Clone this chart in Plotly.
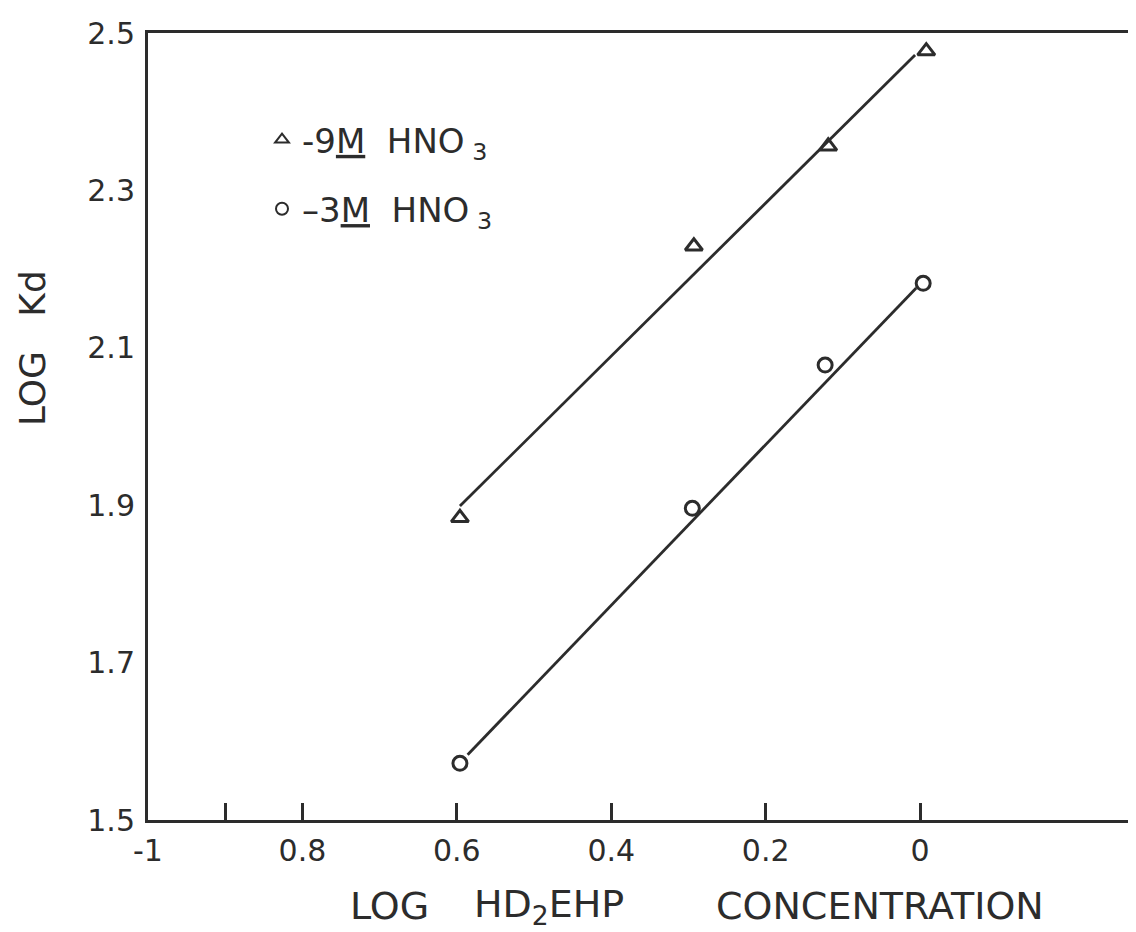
import plotly.graph_objects as go

# ---- data ----
x_log_conc = [-0.596, -0.293, -0.119, 0.008]
logkd_9M = [1.884, 2.229, 2.356, 2.477]
x_log_conc_3M = [-0.596, -0.295, -0.123, 0.004]
logkd_3M = [1.572, 1.896, 2.078, 2.182]

fit_x_9M = [-0.596, -0.0065]
fit_y_9M = [1.899, 2.472]
fit_x_3M = [-0.586, -0.005]
fit_y_3M = [1.583, 2.176]

x_tickvals = [-1.0, -0.8, -0.6, -0.4, -0.2, 0.0]
x_ticktext = ["-1", "0.8", "0.6", "0.4", "0.2", "0"]
x_minor_ticks = [-0.9]
y_tickvals = [1.5, 1.7, 1.9, 2.1, 2.3, 2.5]
y_ticktext = ["1.5", "1.7", "1.9", "2.1", "2.3", "2.5"]

legend_9M = "-9<u>M</u>\u00a0\u00a0HNO<sub>\u00a03</sub>"
legend_3M = "\u20133<u>M</u>\u00a0\u00a0HNO<sub>\u00a03</sub>"

INK = "#2c2c2c"
FONT = "DejaVu Sans"

fig = go.Figure()

fig.add_trace(go.Scatter(x=fit_x_9M, y=fit_y_9M, mode="lines",
                         line=dict(color=INK, width=2.8), showlegend=False,
                         hoverinfo="skip"))
fig.add_trace(go.Scatter(x=fit_x_3M, y=fit_y_3M, mode="lines",
                         line=dict(color=INK, width=2.8), showlegend=False,
                         hoverinfo="skip"))
fig.add_trace(go.Scatter(x=x_log_conc, y=logkd_9M, mode="markers", name=legend_9M,
                         legendgroup="a",
                         marker=dict(symbol="triangle-up-open", size=15,
                                     color=INK, line=dict(color=INK, width=3))))
fig.add_trace(go.Scatter(x=x_log_conc_3M, y=logkd_3M, mode="markers", name=legend_3M,
                         legendgroup="b",
                         marker=dict(symbol="circle-open", size=14,
                                     color=INK, line=dict(color=INK, width=3))))

fig.update_layout(
    width=1136, height=932,
    margin=dict(l=140, r=0, t=25, b=120, pad=0),
    paper_bgcolor="white", plot_bgcolor="white",
    font=dict(family=FONT, color=INK, size=30),
    showlegend=True,
    legend=dict(x=(254 - 140) / 996, y=(812 - 103) / 787, xref="paper", yref="paper",
                xanchor="left", yanchor="top", bgcolor="rgba(0,0,0,0)",
                font=dict(family=FONT, size=34, color=INK),
                itemsizing="constant", tracegroupgap=22),
    xaxis=dict(range=[-1.0, 0.29], showgrid=False, zeroline=False,
               showline=True, linecolor=INK, linewidth=3, mirror=True,
               tickmode="array", tickvals=x_tickvals, ticktext=x_ticktext,
               ticks="inside", ticklen=17, tickwidth=3, tickcolor=INK,
               ticklabelstandoff=2,
               tickfont=dict(family=FONT, size=30, color=INK),
               minor=dict(tickmode="array", tickvals=x_minor_ticks, ticks="inside",
                          ticklen=17, tickwidth=3, tickcolor=INK, showgrid=False)),
    yaxis=dict(range=[1.5, 2.5], showgrid=False, zeroline=False,
               showline=True, linecolor=INK, linewidth=3, mirror=False,
               tickmode="array", tickvals=y_tickvals, ticktext=y_ticktext,
               ticks="", ticklabelstandoff=4,
               tickfont=dict(family=FONT, size=30, color=INK)),
)

# axis titles
title_y = (812 - 898) / 787
fig.add_annotation(text="LOG", xref="paper", yref="paper",
                   x=(340 - 140) / 996, y=title_y,
                   xanchor="left", yanchor="middle", showarrow=False,
                   font=dict(family=FONT, size=38, color=INK))
fig.add_annotation(text="HD<sub>2</sub>EHP", xref="paper", yref="paper",
                   x=(464 - 140) / 996, y=title_y,
                   xanchor="left", yanchor="middle", showarrow=False,
                   font=dict(family=FONT, size=38, color=INK))
fig.add_annotation(text="CONCENTRATION", xref="paper", yref="paper",
                   x=(706 - 140) / 996, y=title_y,
                   xanchor="left", yanchor="middle", showarrow=False,
                   font=dict(family=FONT, size=38, color=INK))
fig.add_annotation(text="LOG\u00a0\u00a0\u00a0Kd", xref="paper", yref="paper",
                   x=(25 - 140) / 996, y=(812 - 340) / 787, textangle=-90,
                   xanchor="center", yanchor="middle", showarrow=False,
                   font=dict(family=FONT, size=36, color=INK))

fig.write_html("out.html")
